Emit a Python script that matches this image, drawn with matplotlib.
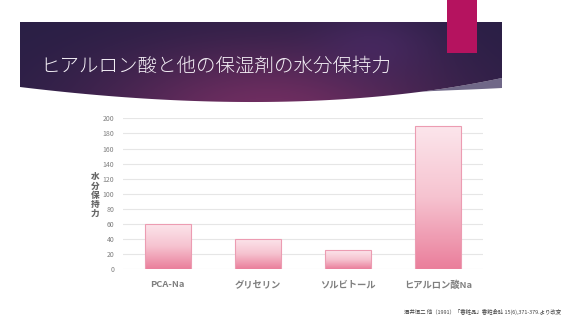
import numpy as np
import matplotlib.pyplot as plt
from matplotlib.patches import Polygon, Rectangle
from matplotlib.colors import LinearSegmentedColormap

plt.rcParams['font.family'] = ['Noto Sans CJK JP', 'DejaVu Sans']

# data
categories = ['PCA-Na', 'グリセリン', 'ソルビトール', 'ヒアルロン酸Na']
values = [60, 40, 25, 190]
yticks = [0, 20, 40, 60, 80, 100, 120, 140, 160, 180, 200]
title = 'ヒアルロン酸と他の保湿剤の水分保持力'
ylabel = '水分保持力'
source = '酒井恒二 他（1991）「香粧品」香粧会誌 15(6),371-379.より改変'

W, H = 567, 319
fig = plt.figure(figsize=(W / 100, H / 100), dpi=100)

# background layer in pixel coordinates
bg = fig.add_axes([0, 0, 1, 1])
bg.set_xlim(0, W)
bg.set_ylim(H, 0)
bg.axis('off')


def bezier(p0, c, p2, n=120):
    t = np.linspace(0, 1, n)[:, None]
    return (1 - t) ** 2 * np.array(p0) + 2 * t * (1 - t) * np.array(c) + t ** 2 * np.array(p2)


# banner with curved bottom
bottom = bezier((20, 87), (300, 121), (502, 78))
banner_pts = np.vstack([[(20, 22), (502, 22)], bottom[::-1]])
banner = Polygon(banner_pts, closed=True, facecolor='none', edgecolor='none')
bg.add_patch(banner)

# light sliver below the banner, only towards the right end
seg = bottom[bottom[:, 0] >= 420]
grow = ((seg[:, 0] - 420) / (502 - 420)) ** 1.3 * 10
strip_low = seg + np.column_stack([np.zeros(len(seg)), grow])
strip_pts = np.vstack([seg, strip_low[::-1]])
bg.add_patch(Polygon(strip_pts, closed=True, facecolor='#706888',
                     edgecolor='none', zorder=0.5))

# gradient inside the banner
xs = np.linspace(20, 502, 300)
ys = np.linspace(22, 110, 80)
X, Y = np.meshgrid(xs, ys)
dark = np.array([0.16, 0.12, 0.27])
glow = np.array([0.44, 0.18, 0.38])
glow2 = np.array([0.30, 0.17, 0.41])
d1 = np.exp(-(((X - 270) / 170) ** 2 + ((Y - 115) / 70) ** 2))
d2 = np.exp(-(((X - 375) / 60) ** 2 + ((Y - 45) / 35) ** 2))
img = dark[None, None, :] * (1 - d1[..., None]) + glow[None, None, :] * d1[..., None]
img = img * (1 - 0.6 * d2[..., None]) + glow2[None, None, :] * 0.6 * d2[..., None]
im = bg.imshow(img, extent=[20, 502, 110, 22], aspect='auto', zorder=1)
im.set_clip_path(banner)

# magenta tab
bg.add_patch(Rectangle((447, 0), 30, 53, facecolor='#b5135f', edgecolor='none', zorder=3))

bg.text(40, 66, title, color='#f4f0f6', fontsize=14, fontweight='light',
        va='center', ha='left', zorder=4)

bg.text(404, 312, source, color='#404040', fontsize=3.9, va='center', ha='left')

bg.text(95, 195, '\n'.join(ylabel), color='#666666', fontsize=6.2, fontweight='heavy',
        ha='center', va='center', linespacing=1.0)

# chart
ax = fig.add_axes([122.5 / W, (H - 269.3) / H, 360.5 / W, 151 / H])
ax.patch.set_alpha(0)
x = np.arange(len(categories))
bw = 0.51
pink = LinearSegmentedColormap.from_list('pink', ['#ea7e9b', '#f6c3d0', '#fce6ec'])
grad = np.linspace(0, 1, 256).reshape(-1, 1)
for xi, v in zip(x, values):
    bars = ax.bar(xi, v, width=bw, facecolor='none', edgecolor='#ec9cb2', linewidth=0.8, zorder=3)
    gi = ax.imshow(grad, cmap=pink, origin='lower', aspect='auto',
                   extent=[xi - bw / 2, xi + bw / 2, 0, v], zorder=2)
    gi.set_clip_path(bars[0])

ax.set_xlim(-0.5, len(categories) - 0.5)
ax.set_ylim(0, 200)
ax.set_yticks(yticks)
ax.set_xticks(x)
ax.set_xticklabels(categories, fontsize=6.7, fontweight='bold', color='#7f7f7f')
ax.tick_params(axis='y', length=0, labelsize=5, labelcolor='#7f7f7f', pad=6)
ax.tick_params(axis='x', length=0, pad=8)
ax.yaxis.grid(True, color='#e6e6e6', linewidth=0.8)
ax.set_axisbelow(True)
for s in ax.spines.values():
    s.set_visible(False)

fig.savefig('out.png', dpi=100)
